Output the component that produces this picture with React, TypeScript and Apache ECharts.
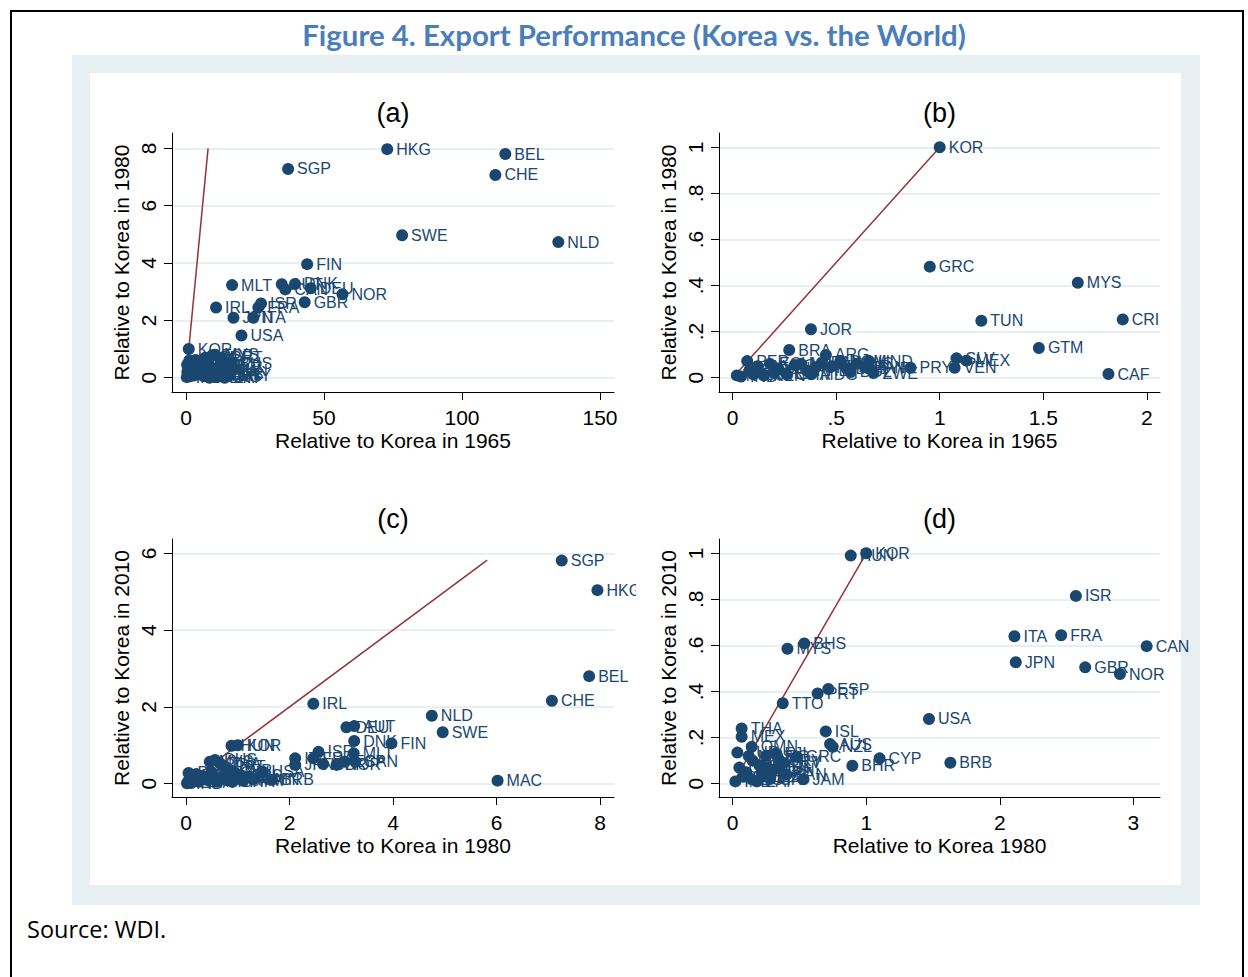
import React, { useEffect, useRef } from "react";
import * as echarts from "echarts";

const FONT = "'Liberation Sans', Arial, sans-serif";
const NAVY = "#1a476f";
const MAROON = "#90353b";
const BAND = "#e8eff2";

// ---------- Panel (a): 1965 vs 1980 ----------
const codesA = ["HKG", "BEL", "CHE", "SGP", "SWE", "NLD", "FIN", "MLT", "AUT", "CAN", "DNK", "DEU", "NOR", "GBR", "ISR", "FRA", "IRL", "JPN", "ITA", "USA", "KOR",
  "ESP", "MYS", "PRT", "ISL", "NZL", "AUS", "GRC", "CYP", "ARG", "MEX", "BRA", "THA", "PHL", "TUR", "TUN", "CHL", "URY", "PAN", "TTO", "JAM", "BRB", "FJI", "MUS", "BHS", "CRI", "IND", "PAK", "EGY", "KEN", "COL", "VEN", "LKA", "ZAF"];
const xA = [72.9, 115.7, 112.1, 37.0, 78.3, 134.9, 43.9, 16.7, 34.7, 36.0, 39.5, 45.2, 56.7, 43.0, 27.2, 26.2, 10.9, 17.2, 24.4, 20.1, 1.0,
  9.5, 10.5, 13.0, 7.0, 5.5, 3.5, 8.0, 12.5, 11.5, 4.0, 2.0, 6.0, 9.0, 1.5, 14.5, 10.0, 15.5, 0.8, 6.5, 3.0, 13.0, 7.5, 4.5, 16.0, 2.5, 0.3, 0.5, 1.2, 0.4, 5.0, 8.5, 12.0, 14.0];
const yA = [7.97, 7.8, 7.07, 7.28, 4.97, 4.73, 3.96, 3.23, 3.26, 3.08, 3.27, 3.12, 2.91, 2.63, 2.59, 2.45, 2.45, 2.09, 2.09, 1.47, 1.0,
  0.78, 0.8, 0.7, 0.7, 0.55, 0.62, 0.45, 0.4, 0.05, 0.3, 0.15, 0.2, 0.15, 0.05, 0.25, 0.3, 0.08, 0.35, 0.05, 0.08, 0.12, 0.35, 0.42, 0.48, 0.48, 0.02, 0.2, 0.6, 0.45, 0.12, 0.0, 0.22, 0.0];
const ticksXA = [0, 50, 100, 150];
const ticksYA = [0, 2, 4, 6, 8];
const lineA = [[0, 0], [8, 8]];

// ---------- Panel (b): 1965 vs 1980, zoomed ----------
const codesB = ["KOR", "GRC", "MYS", "CRI", "TUN", "GTM", "CAF", "SLV", "MEX", "VEN", "PRY", "JOR", "BRA", "ARG", "HND", "PER",
  "PAN", "ECU", "CHL", "COL", "PHL", "PAK", "BOL", "MDG", "DOM", "LKA", "IND", "TUR", "EGY", "KEN", "NIC", "SEN", "GHA", "MAR", "URY", "THA", "SYR", "ZWE", "NGA", "CIV"];
const xB = [1.0, 0.952, 1.667, 1.884, 1.201, 1.479, 1.815, 1.081, 1.129, 1.072, 0.859, 0.378, 0.273, 0.45, 0.659, 0.07,
  0.64, 0.18, 0.22, 0.30, 0.36, 0.43, 0.57, 0.38, 0.52, 0.55, 0.04, 0.08, 0.10, 0.15, 0.60, 0.20, 0.26, 0.33, 0.40, 0.48, 0.66, 0.68, 0.02, 0.12];
const yB = [1.0, 0.482, 0.412, 0.253, 0.247, 0.129, 0.016, 0.084, 0.074, 0.043, 0.043, 0.21, 0.12, 0.099, 0.072, 0.072,
  0.045, 0.06, 0.04, 0.055, 0.03, 0.065, 0.025, 0.015, 0.07, 0.04, 0.005, 0.03, 0.015, 0.01, 0.06, 0.02, 0.015, 0.06, 0.045, 0.05, 0.04, 0.02, 0.01, 0.05];
const ticksXB = [0, 0.5, 1, 1.5, 2];
const ticksYB = [0, 0.2, 0.4, 0.6, 0.8, 1];
const lineB = [[0, 0], [1, 1]];

// ---------- Panel (c): 1980 vs 2010 ----------
const codesC = ["SGP", "HKG", "BEL", "CHE", "NLD", "SWE", "MAC", "FIN", "DNK", "IRL", "DEU", "AUT", "HUN", "KOR", "USA", "BRB", "ISR", "ITA", "JPN", "FRA", "GBR", "NOR", "ESP", "MLT", "CAN",
  "MYS", "BHS", "THA", "PRT", "CYP", "NZL", "AUS", "ISL", "GRC", "MEX", "TTO", "BHR", "PHL", "TUN", "CRI", "CHL", "TUR", "JAM", "OMN", "ZAF", "BRA", "ARG", "IND", "PAN", "URY"];
const xC = [7.26, 7.95, 7.79, 7.07, 4.75, 4.96, 6.02, 3.97, 3.25, 2.46, 3.10, 3.25, 0.88, 1.0, 1.48, 1.66, 2.56, 2.11, 2.11, 2.46, 2.65, 2.91, 3.07, 3.24, 3.27,
  0.46, 0.56, 0.66, 0.75, 0.85, 0.95, 1.05, 1.2, 0.70, 0.3, 0.5, 0.9, 0.2, 0.4, 0.6, 0.15, 0.8, 1.1, 1.3, 0.25, 0.1, 0.05, 0.02, 0.05, 0.12];
const yC = [5.81, 5.04, 2.80, 2.16, 1.77, 1.34, 0.08, 1.05, 1.11, 2.08, 1.47, 1.50, 0.99, 1.0, 0.31, 0.10, 0.83, 0.66, 0.49, 0.66, 0.51, 0.49, 0.57, 0.79, 0.57,
  0.57, 0.62, 0.53, 0.45, 0.35, 0.28, 0.22, 0.18, 0.15, 0.2, 0.3, 0.05, 0.25, 0.1, 0.05, 0.1, 0.12, 0.08, 0.12, 0.05, 0.02, 0.08, 0.01, 0.28, 0.22];
const ticksXC = [0, 2, 4, 6, 8];
const ticksYC = [0, 2, 4, 6];
const lineC = [[0, 0], [5.82, 5.82]];

// ---------- Panel (d): 1980 vs 2010, zoomed ----------
const codesD = ["KOR", "HUN", "ISR", "ITA", "FRA", "CAN", "JPN", "GBR", "NOR", "USA", "BRB", "BHS", "MYS", "ESP", "PRT", "TTO", "ISL", "AUS", "NZL", "CYP", "BHR", "GRC", "JAM", "THA", "MEX", "OMN", "TUR",
  "PHL", "BRA", "CHL", "ARG", "TUN", "URY", "CRI", "ZAF", "BLZ", "PAN", "IND", "CHN", "MUS", "FJI", "COL", "VEN", "SLV", "EGY", "PER"];
const xD = [1.0, 0.884, 2.57, 2.11, 2.46, 3.10, 2.12, 2.64, 2.90, 1.47, 1.63, 0.536, 0.41, 0.716, 0.636, 0.375, 0.697, 0.729, 0.749, 1.10, 0.896, 0.48, 0.53, 0.067, 0.067, 0.142, 0.035,
  0.10, 0.15, 0.20, 0.25, 0.30, 0.35, 0.28, 0.18, 0.22, 0.40, 0.02, 0.05, 0.12, 0.32, 0.08, 0.26, 0.38, 0.14, 0.22];
const yD = [1.0, 0.99, 0.815, 0.64, 0.644, 0.597, 0.527, 0.505, 0.476, 0.281, 0.091, 0.609, 0.586, 0.411, 0.392, 0.349, 0.227, 0.172, 0.16, 0.11, 0.078, 0.117, 0.019, 0.24, 0.204, 0.16, 0.135,
  0.05, 0.10, 0.08, 0.12, 0.06, 0.10, 0.02, 0.01, 0.03, 0.04, 0.01, 0.07, 0.12, 0.13, 0.03, 0.07, 0.09, 0.02, 0.05];
const ticksXD = [0, 1, 2, 3];
const ticksYD = [0, 0.2, 0.4, 0.6, 0.8, 1];
const lineD = [[0, 0], [1, 1]];

const panelTitles = ["(a)", "(b)", "(c)", "(d)"];
const xNames = ["Relative to Korea in 1965", "Relative to Korea in 1965", "Relative to Korea in 1980", "Relative to Korea 1980"];
const yNames = ["Relative to Korea in 1980", "Relative to Korea in 1980", "Relative to Korea in 2010", "Relative to Korea in 2010"];
const figTitle = "Figure 4. Export Performance (Korea vs. the World)";
const sourceNote = "Source: WDI.";

// layout (pixels) and axis extents
const layout = [
  { left: 172, top: 133, width: 442, height: 259, xMin: -5.07, xMax: 155.07, yMin: -0.4987, yMax: 8.534 },
  { left: 719, top: 133, width: 441, height: 259, xMin: -0.0662, xMax: 2.064, yMin: -0.0621, yMax: 1.0621 },
  { left: 172, top: 539, width: 442, height: 258, xMin: -0.2705, xMax: 8.27, yMin: -0.3464, yMax: 6.372 },
  { left: 719, top: 539, width: 441, height: 258, xMin: -0.1026, xMax: 3.2, yMin: -0.0577, yMax: 1.062 },
];

const fmt = (v: number) => {
  if (v === 0) return "0";
  const s = String(Math.round(v * 1000) / 1000);
  return s.replace(/^0\./, ".");
};

export default function App() {
  const ref = useRef<HTMLDivElement>(null);
  useEffect(() => {
    if (!ref.current) return;
    const chart = echarts.init(ref.current, null, { renderer: "svg" });
    const panels = [
      { codes: codesA, xs: xA, ys: yA, tx: ticksXA, ty: ticksYA, line: lineA },
      { codes: codesB, xs: xB, ys: yB, tx: ticksXB, ty: ticksYB, line: lineB },
      { codes: codesC, xs: xC, ys: yC, tx: ticksXC, ty: ticksYC, line: lineC },
      { codes: codesD, xs: xD, ys: yD, tx: ticksXD, ty: ticksYD, line: lineD },
    ];
    const grid: any[] = [];
    const xAxis: any[] = [];
    const yAxis: any[] = [];
    const series: any[] = [];
    const graphic: any[] = [
      { type: "rect", shape: { x: 11, y: 11, width: 1232, height: 990 }, style: { fill: "none", stroke: "#000", lineWidth: 2 }, z: -10 },
      { type: "rect", shape: { x: 72, y: 55, width: 1128, height: 850 }, style: { fill: BAND }, z: -10 },
      { type: "rect", shape: { x: 90, y: 73, width: 1091, height: 812 }, style: { fill: "#fff" }, z: -9 },
      // plot-region clip on the right of panel (c)
      { type: "rect", shape: { x: 636, y: 578, width: 18, height: 24 }, style: { fill: "#fff" }, z: 100 },
      { type: "text", x: 634, y: 34, style: { text: figTitle, fill: "#4a7ebb", font: "bold 29.4px Lato, 'Open Sans', sans-serif", textAlign: "center", textVerticalAlign: "middle" } },
      { type: "text", x: 27, y: 929, style: { text: sourceNote, fill: "#000", font: "23.5px 'Open Sans', sans-serif", textAlign: "left", textVerticalAlign: "middle" } },
    ];
    panels.forEach((p, i) => {
      const L = layout[i];
      grid.push({ left: L.left, top: L.top, width: L.width, height: L.height, containLabel: false });
      graphic.push({
        type: "text", x: L.left + L.width / 2, y: L.top - 20,
        style: { text: panelTitles[i], fill: "#000", font: `27px ${FONT}`, textAlign: "center", textVerticalAlign: "middle" },
      });
      xAxis.push({
        type: "value", gridIndex: i, min: L.xMin, max: L.xMax,
        name: xNames[i], nameLocation: "middle", nameGap: 38,
        nameTextStyle: { fontFamily: FONT, fontSize: 21, color: "#000" },
        axisLine: { show: true, onZero: false, lineStyle: { color: "#000", width: 1 } },
        axisTick: { show: true, length: 8, customValues: p.tx, lineStyle: { color: "#000" } },
        axisLabel: { customValues: p.tx, formatter: fmt, fontFamily: FONT, fontSize: 21, color: "#000", margin: 15 },
        splitLine: { show: false },
      });
      yAxis.push({
        type: "value", gridIndex: i, min: L.yMin, max: L.yMax,
        name: yNames[i], nameLocation: "middle", nameGap: 40,
        nameTextStyle: { fontFamily: FONT, fontSize: 21, color: "#000" },
        axisLine: { show: true, onZero: false, lineStyle: { color: "#000", width: 1 } },
        axisTick: { show: true, length: 8, customValues: p.ty, lineStyle: { color: "#000" } },
        axisLabel: { customValues: p.ty, formatter: fmt, rotate: 90, fontFamily: FONT, fontSize: 21, color: "#000", margin: 13 },
        splitLine: { show: true, lineStyle: { color: BAND, width: 2 } },
      });
      const data = p.codes.map((c, k) => ({ name: c, value: [p.xs[k], p.ys[k]] }));
      series.push({
        type: "line", xAxisIndex: i, yAxisIndex: i, data: p.line, symbol: "none",
        lineStyle: { color: MAROON, width: 1.5 }, z: 3, silent: true,
      });
      series.push({
        type: "scatter", xAxisIndex: i, yAxisIndex: i, data, symbol: "circle", symbolSize: 12,
        itemStyle: { color: NAVY, opacity: 1 },
        label: { show: true, position: "right", distance: 3, formatter: "{b}", color: NAVY, fontFamily: FONT, fontSize: 16 },
        labelLayout: { hideOverlap: false },
        z: 4,
      });
    });
    chart.setOption({ animation: false, grid, xAxis, yAxis, series, graphic });
    return () => chart.dispose();
  }, []);
  return <div ref={ref} style={{ position: "absolute", left: 0, top: 0, width: 1248, height: 977, background: "#fff" }} />;
}
